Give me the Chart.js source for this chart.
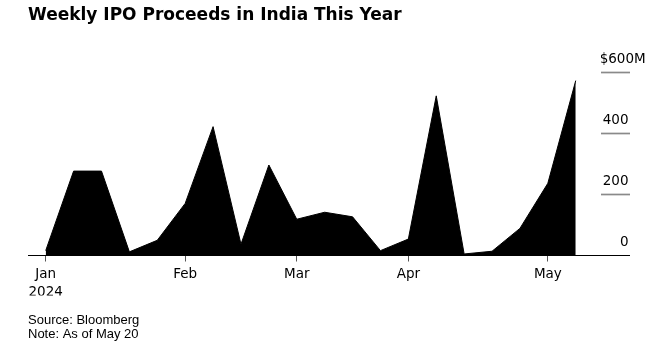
<!DOCTYPE html>
<html>
<head>
<meta charset="utf-8">
<script src="https://cdn.jsdelivr.net/npm/chart.js@4.4.1/dist/chart.umd.min.js"></script>
<style>
  html, body { margin: 0; padding: 0; background: #fff; }
  #wrap { width: 666px; height: 353px; position: relative; }
</style>
</head>
<body>
<div id="wrap"><canvas id="c"></canvas></div>
<script>
// Week starting dates (2024)
const weeks = ['Jan 1','Jan 8','Jan 15','Jan 22','Jan 29','Feb 5','Feb 12','Feb 19','Feb 26','Mar 4',
               'Mar 11','Mar 18','Mar 25','Apr 1','Apr 8','Apr 15','Apr 22','Apr 29','May 6','May 13'];
// Weekly IPO proceeds, $M
const proceeds = [16, 277, 277, 12, 50, 171, 423, 37, 297, 119,
                  142, 127, 16, 54, 524, 5, 14, 89, 237, 574];
// X tick positions (week index) and labels
const monthTickIndex = [0, 5, 9, 13, 18];
const monthTickLabels = [['Jan', '2024'], 'Feb', 'Mar', 'Apr', 'May'];
// Y ticks
const yTickValues = [0, 200, 400, 600];
const yTickLabels = ['0', '200', '400', '$600M'];

const titleText = 'Weekly IPO Proceeds in India This Year';
const sourceLines = ['Source: Bloomberg', 'Note: As of May 20'];

const tickFont = { family: '"DejaVu Sans", sans-serif', size: 13.5, lineHeight: 1.333 };

new Chart(document.getElementById('c'), {
  type: 'line',
  data: {
    datasets: [{
      label: 'IPO proceeds',
      data: proceeds.map((v, i) => ({ x: i, y: v })),
      fill: 'origin',
      backgroundColor: '#000',
      borderColor: '#000',
      borderWidth: 1,
      pointRadius: 0,
      tension: 0
    }]
  },
  options: {
    responsive: true,
    maintainAspectRatio: false,
    animation: false,
    layout: { padding: { left: 28, right: 20.3, top: 0, bottom: 0 } },
    plugins: {
      legend: { display: false },
      tooltip: { enabled: false },
      title: {
        display: true,
        text: titleText,
        align: 'start',
        color: '#000',
        font: { family: '"DejaVu Sans", sans-serif', size: 17, weight: 'bold', lineHeight: 1.2 },
        padding: { top: 5.6, bottom: 46.7 }
      },
      subtitle: {
        display: true,
        position: 'bottom',
        text: sourceLines,
        align: 'start',
        color: '#000',
        font: { family: '"Liberation Sans", Arial, sans-serif', size: 13, lineHeight: 14 / 13 },
        padding: { top: 18, bottom: 11.5 }
      }
    },
    scales: {
      x: {
        type: 'linear',
        min: -0.6345,
        max: 19.906,
        afterBuildTicks: (scale) => { scale.ticks = monthTickIndex.map(v => ({ value: v })); },
        afterFit: (scale) => { scale.height = 40; },
        ticks: {
          autoSkip: false,
          maxRotation: 0,
          color: '#000',
          font: tickFont,
          padding: 4.5,
          callback: (value) => {
            const k = monthTickIndex.indexOf(value);
            return k >= 0 ? monthTickLabels[k] : '';
          }
        },
        grid: {
          drawOnChartArea: false,
          drawTicks: true,
          tickLength: 6,
          tickColor: '#555',
          tickWidth: 1
        },
        border: { display: true, color: '#000', width: 1 }
      },
      y: {
        position: 'right',
        min: 0,
        max: 600,
        afterBuildTicks: (scale) => { scale.ticks = yTickValues.map(v => ({ value: v })); },
        afterFit: (scale) => { scale.width = 44.7; },
        ticks: {
          color: '#000',
          font: tickFont,
          crossAlign: 'far',
          labelOffset: -13,
          callback: (value) => {
            const k = yTickValues.indexOf(value);
            const s = yTickLabels[k];
            return value === 600 ? s : s + '    ';
          }
        },
        grid: {
          drawOnChartArea: false,
          drawTicks: true,
          tickLength: 29,
          tickColor: (ctx) => (ctx.tick && ctx.tick.value === 0 ? '#000' : '#8a8a8a'),
          tickWidth: (ctx) => (ctx.tick && ctx.tick.value === 0 ? 1 : 1.7)
        },
        border: { display: false }
      }
    }
  }
});
</script>
</body>
</html>
